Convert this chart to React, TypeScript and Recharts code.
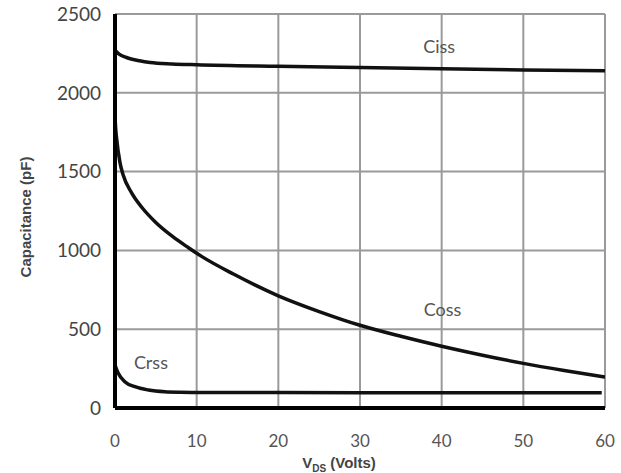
import React from 'react';
import { LineChart, Line, XAxis, YAxis, CartesianGrid, ReferenceDot, Label } from 'recharts';

// V_DS (Volts) vs capacitance (pF)
const cissData = [
  { vds: 0, c: 2270 }, { vds: 0.5, c: 2245 }, { vds: 1.4, c: 2224 }, { vds: 3, c: 2203 },
  { vds: 4.3, c: 2192 }, { vds: 7, c: 2183 }, { vds: 10, c: 2178 }, { vds: 20, c: 2168 },
  { vds: 30, c: 2160 }, { vds: 40, c: 2152 }, { vds: 50, c: 2145 }, { vds: 60, c: 2140 },
];
const cossData = [
  { vds: 0, c: 1860 }, { vds: 0.05, c: 1800 }, { vds: 0.2, c: 1710 }, { vds: 0.6, c: 1560 },
  { vds: 1, c: 1478 }, { vds: 2, c: 1368 }, { vds: 3.3, c: 1272 }, { vds: 4.9, c: 1182 },
  { vds: 7, c: 1090 }, { vds: 9, c: 1017 }, { vds: 10.6, c: 962 }, { vds: 14.5, c: 850 },
  { vds: 20, c: 712 }, { vds: 25, c: 612 }, { vds: 30, c: 525 }, { vds: 35, c: 455 },
  { vds: 40, c: 392 }, { vds: 45, c: 335 }, { vds: 50, c: 283 }, { vds: 55, c: 238 },
  { vds: 60, c: 197 },
];
const crssData = [
  { vds: 0, c: 273 }, { vds: 0.4, c: 220 }, { vds: 1.2, c: 167 }, { vds: 2.45, c: 135 },
  { vds: 4.1, c: 114 }, { vds: 6.1, c: 103 }, { vds: 8, c: 100 }, { vds: 10, c: 99 },
  { vds: 20, c: 98 }, { vds: 30, c: 97 }, { vds: 40, c: 97 }, { vds: 50, c: 96 },
  { vds: 59.6, c: 96 },
];
const xTicks = [0, 10, 20, 30, 40, 50, 60];
const yTicks = [0, 500, 1000, 1500, 2000, 2500];
const seriesLabels = [
  { name: 'Ciss', vds: 39.7, c: 2293 },
  { name: 'Coss', vds: 40.1, c: 622 },
  { name: 'Crss', vds: 4.4, c: 285 },
];

const tickFont = 'Lato, "Open Sans", sans-serif';
const labelFont = '"Liberation Sans", Arial, sans-serif';

const YLabel = (props: any) => {
  const vb = props.viewBox || { x: 0, y: 0, width: 0, height: 0 };
  const cx = 25;
  const cy = vb.y + vb.height / 2 + 6;
  return (
    <text x={cx} y={cy} transform={`rotate(-90 ${cx} ${cy})`} textAnchor="middle" dominantBaseline="central"
      fill="#444" fontSize={15} fontWeight="bold" fontFamily={labelFont}>
      Capacitance (pF)
    </text>
  );
};

const XLabel = (props: any) => {
  const vb = props.viewBox || { x: 0, y: 0, width: 0, height: 0 };
  const cx = vb.x + vb.width / 2 - 21;
  const y = vb.y + 60;
  return (
    <text x={cx} y={y} textAnchor="middle" fill="#444" fontSize={15} fontWeight="bold" fontFamily={labelFont}>
      V<tspan fontSize={10} dy={4}>DS</tspan><tspan dy={-4}> (Volts)</tspan>
    </text>
  );
};

export default function App() {
  return (
    <div style={{ position: 'absolute', left: 0, top: 0, width: 621, height: 473, background: '#fff' }}>
      <LineChart width={621} height={473} margin={{ top: 14, right: 16, bottom: 0, left: 0 }}>
        <CartesianGrid stroke="#9a9a9a" strokeWidth={2} horizontalValues={yTicks} verticalValues={xTicks} />
        <XAxis
          dataKey="vds"
          type="number"
          domain={[0, 60]}
          ticks={xTicks}
          allowDataOverflow
          axisLine={{ stroke: '#000', strokeWidth: 4 }}
          tickLine={false}
          tickMargin={21}
          tick={{ fill: '#555', fontSize: 17, fontFamily: tickFont }}
          height={65}
        >
          <Label content={<XLabel />} />
        </XAxis>
        <YAxis
          type="number"
          domain={[0, 2500]}
          ticks={yTicks}
          allowDataOverflow
          width={115}
          axisLine={{ stroke: '#000', strokeWidth: 4 }}
          tickLine={false}
          tickMargin={8}
          tick={{ fill: '#444', fontSize: 19, fontFamily: tickFont }}
        >
          <Label content={<YLabel />} />
        </YAxis>
        <Line data={cissData} dataKey="c" type="monotone" stroke="#111" strokeWidth={3.5} dot={false} isAnimationActive={false} />
        <Line data={cossData} dataKey="c" type="monotone" stroke="#111" strokeWidth={3.5} dot={false} isAnimationActive={false} />
        <Line data={crssData} dataKey="c" type="monotone" stroke="#111" strokeWidth={3.5} dot={false} isAnimationActive={false} />
        {seriesLabels.map((s) => (
          <ReferenceDot key={s.name} x={s.vds} y={s.c} r={0} fill="none" stroke="none"
            label={{ value: s.name, position: 'center', fill: '#555', fontSize: 18, fontFamily: tickFont }} />
        ))}
      </LineChart>
    </div>
  );
}
